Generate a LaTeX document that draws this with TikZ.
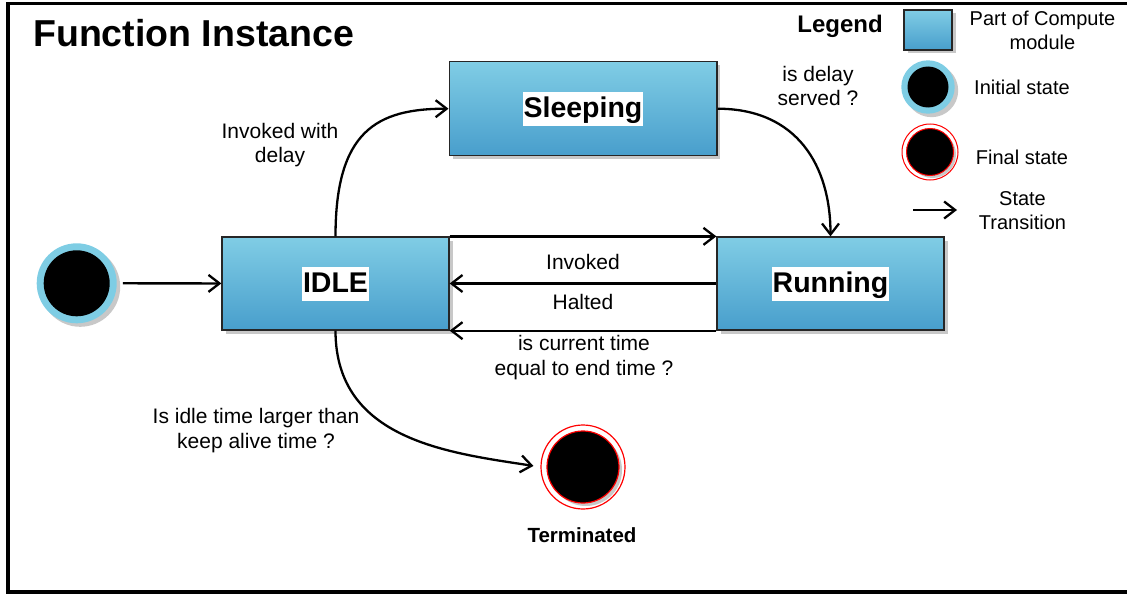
\documentclass[tikz,border=0pt]{standalone}
\usepackage{fontspec}
\setmainfont{Liberation Sans}
\usetikzlibrary{arrows.meta,shadows}

\definecolor{boxtop}{RGB}{128,205,229}
\definecolor{boxbot}{RGB}{72,158,204}
\definecolor{ringblue}{RGB}{126,205,228}
\definecolor{shadegray}{RGB}{200,200,200}

\tikzset{
  shadowed/.style={drop shadow={shadow xshift=3.5pt, shadow yshift=-3.5pt, fill=shadegray, opacity=1}},
  statebox/.style={draw=black!85, line width=1.3pt, top color=boxtop, bottom color=boxbot,
                   shadowed, inner sep=0pt},
  boxlabel/.style={fill=white, inner sep=1pt, text height=25pt, text depth=7pt,
                   font=\fontsize{28.5}{34}\selectfont\bfseries},
  lbl/.style={font=\fontsize{21}{24.5}\selectfont, align=center, inner sep=0pt},
  lgtext/.style={font=\fontsize{20}{24}\selectfont, align=center, inner sep=0pt},
  trans/.style={line width=2.3pt, -{Straight Barb[length=11pt,width=17pt]}},
  ringnode/.style={circle, inner sep=0pt, fill=ringblue, shadowed},
}

\begin{document}
\begin{tikzpicture}[x=1pt, y=-1pt]
  \useasboundingbox (0,0) rectangle (1127,594);

  % outer frame
  \draw[line width=3.5pt] (8,3.5) rectangle (1140,592);

  % title
  \node[anchor=base west, inner sep=0pt, font=\fontsize{37.5}{42}\selectfont\bfseries]
    (title) at (33,47) {Function Instance};

  % states
  \node[statebox, minimum width=227pt, minimum height=93pt] (idle) at (335.5,283.5) {};
  \node[boxlabel] (idlelbl) at (idle.center) {IDLE};

  \node[statebox, minimum width=227pt, minimum height=93pt] (run) at (830.5,283.5) {};
  \node[boxlabel] (runlbl) at (run.center) {Running};

  \node[statebox, minimum width=267.7pt, minimum height=94pt] (sleep) at (583,108.7) {};
  \node[boxlabel] (sleeplbl) at (sleep.center) {Sleeping};

  % initial state
  \node[ringnode, minimum size=80pt] (init) at (76.7,283.3) {};
  \fill[black] (init.center) circle[radius=33pt];

  % final state
  \node[circle, minimum size=84pt, inner sep=0pt, draw=red, line width=1.2pt, fill=white]
    (term) at (583,467) {};
  \fill[shadegray] ([shift={(3pt,-3pt)}]term.center) circle[radius=36pt];
  \draw[red, line width=1.2pt, fill=black] (term.center) circle[radius=36pt];
  \node[font=\fontsize{20.5}{24.5}\selectfont\bfseries, inner sep=0pt] (termlbl) at (582,535) {Terminated};

  % transitions
  \draw[trans, shorten <=6pt] (init) -- (idle);
  \draw[trans] (idle.north east) -- (run.north west);
  \draw[trans] (run.west) -- (idle.east);
  \draw[trans] (run.south west) -- (idle.south east);
  \draw[trans] (idle.north) .. controls +(0,-105) and +(-72,0) .. (sleep.west);
  \draw[trans] (sleep.east) .. controls +(80,0) and +(0,-70) .. (run.north);
  \draw[trans, shorten >=7pt] (idle.south) .. controls +(0,110) and +(-90,-14) .. (term.west);

  % transition labels
  \node[lbl] (linvoked) at (583,262) {Invoked};
  \node[lbl] (lhalted) at (583,302) {Halted};
  \node[lbl] (lend) at (584,357.5) {is current time\\equal to end time ?};
  \node[lbl] (ldelay) at (280,145) {Invoked with\\delay};
  \node[lbl] (lserved) at (818,86) {is delay\\served ?};
  \node[lbl] (lidle) at (256,430.5) {Is idle time larger than\\keep alive time ?};

  % legend
  \node[font=\fontsize{24}{28}\selectfont\bfseries, inner sep=0pt] (lgtitle) at (840,26) {Legend};
  \node[statebox, minimum width=48pt, minimum height=40pt] (lgbox) at (928,30) {};
  \node[lgtext] (lgpart) at (1042.5,30) {Part of Compute\\module};

  \node[ringnode, minimum size=53.4pt] (lginit) at (928,87) {};
  \fill[black] (lginit.center) circle[radius=20.5pt];
  \node[lgtext] (lginittxt) at (1022,87) {Initial state};

  \node[circle, minimum size=56pt, inner sep=0pt, draw=red, line width=1pt, fill=white]
    (lgfinal) at (930,152) {};
  \fill[shadegray] ([shift={(2.5pt,-2.5pt)}]lgfinal.center) circle[radius=23.5pt];
  \draw[red, line width=1pt, fill=black] (lgfinal.center) circle[radius=23.5pt];
  \node[lgtext] (lgfinaltxt) at (1022,157) {Final state};

  \coordinate (lgA) at (913,210);
  \coordinate (lgB) at (957,210);
  \draw[trans] (lgA) -- (lgB);
  \node[lgtext] (lgtrans) at (1022.5,210.5) {State\\Transition};
\end{tikzpicture}
\end{document}
